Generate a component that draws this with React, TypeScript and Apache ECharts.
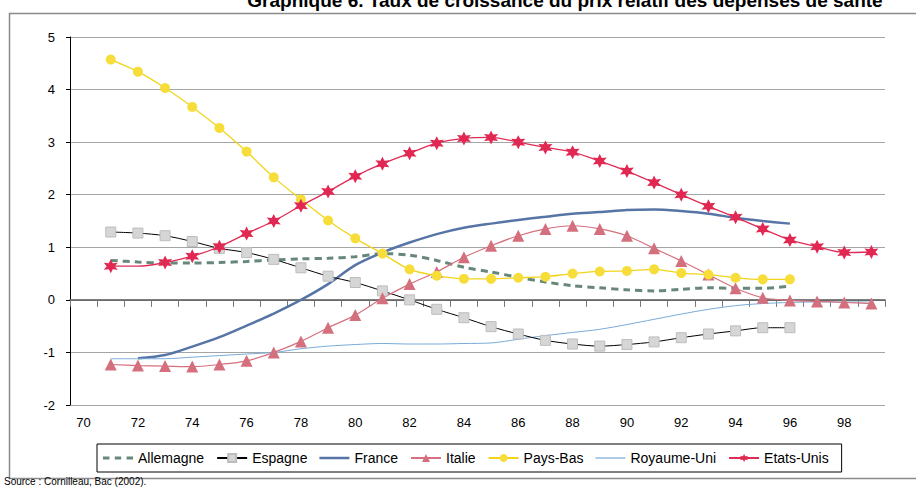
import React, { useEffect, useRef } from "react";
import * as echarts from "echarts";

const years = ["70","71","72","73","74","75","76","77","78","79","80","81","82","83","84","85","86","87","88","89","90","91","92","93","94","95","96","97","98","99"];
const yTicks = [-2, -1, 0, 1, 2, 3, 4, 5];

// values indexed by year 70..99 (null = no data)
const allemagne = [null,0.75,0.72,0.70,0.70,0.71,0.73,0.76,0.78,0.79,0.82,0.88,0.85,0.75,0.62,0.53,0.43,0.34,0.27,0.23,0.19,0.17,0.20,0.23,0.22,0.22,0.26,null,null,null];
const espagne = [null,1.29,1.27,1.22,1.11,0.98,0.90,0.77,0.61,0.45,0.33,0.17,0.00,-0.18,-0.34,-0.51,-0.65,-0.77,-0.84,-0.88,-0.85,-0.80,-0.72,-0.65,-0.59,-0.53,-0.53,null,null,null];
const france = [null,null,-1.11,-1.05,-0.89,-0.71,-0.49,-0.26,0.00,0.30,0.66,0.90,1.09,1.25,1.37,1.45,1.52,1.58,1.64,1.67,1.71,1.72,1.69,1.64,1.56,1.50,1.45,null,null,null];
const italie = [null,-1.23,-1.25,-1.26,-1.27,-1.23,-1.16,-1.00,-0.79,-0.53,-0.29,0.03,0.30,0.53,0.81,1.03,1.22,1.35,1.41,1.35,1.22,0.98,0.74,0.48,0.22,0.04,-0.01,-0.03,-0.05,-0.07];
const paysBas = [null,4.57,4.34,4.03,3.67,3.27,2.82,2.33,1.91,1.51,1.17,0.88,0.58,0.46,0.40,0.40,0.42,0.44,0.50,0.54,0.55,0.58,0.51,0.48,0.42,0.39,0.39,null,null,null];
const royaumeUni = [null,-1.12,-1.12,-1.12,-1.09,-1.06,-1.03,-1.00,-0.93,-0.88,-0.85,-0.83,-0.84,-0.84,-0.83,-0.82,-0.75,-0.68,-0.62,-0.56,-0.47,-0.37,-0.27,-0.18,-0.11,-0.07,-0.05,-0.04,-0.04,-0.04];
const etatsUnis = [null,0.64,0.64,0.71,0.83,1.01,1.26,1.50,1.79,2.06,2.35,2.59,2.79,2.98,3.07,3.09,3.00,2.90,2.81,2.64,2.45,2.23,2.00,1.78,1.57,1.35,1.14,1.01,0.90,0.91];
const etatsUnisNoMarkerYear = "72";

const titleText = "Graphique 6. Taux de croissance du prix relatif des dépenses de santé";
const sourceText = "Source : Cornilleau, Bac (2002).";

const FONT = "'Liberation Sans', Arial, sans-serif";
const STAR = "path://M10,0 L12.5,5.67 L18.66,5 L15,10 L18.66,15 L12.5,14.33 L10,20 L7.5,14.33 L1.34,15 L5,10 L1.34,5 L7.5,5.67 Z";
const ICON_DASH = "path://M0,0 h6 v3 h-6 Z M11,0 h6 v3 h-6 Z M22,0 h6 v3 h-6 Z";
const ICON_THICK = "path://M0,0 h30 v2.5 h-30 Z";
const ICON_THIN = "path://M0,0 h30 v1.2 h-30 Z";

export default function App() {
  const ref = useRef<HTMLDivElement>(null);
  useEffect(() => {
    if (!ref.current) return;
    const chart = echarts.init(ref.current, undefined, { renderer: "svg" });
    const smooth = 0.3;
    const usData = etatsUnis.map((v, i) => (years[i] === etatsUnisNoMarkerYear ? { value: v, symbol: "none" } : v));
    chart.setOption({
      animation: false,
      backgroundColor: "#ffffff",
      textStyle: { fontFamily: FONT },
      grid: { left: 70, right: 31, top: 37, bottom: 83, containLabel: false },
      legend: {
        left: 97,
        top: 444,
        padding: [7, 13, 7, 6],
        borderColor: "#000",
        borderWidth: 1,
        itemWidth: 30,
        itemHeight: 10,
        itemGap: 12,
        symbolKeepAspect: true,
        textStyle: { fontSize: 14, color: "#000", fontFamily: FONT },
        data: [
          { name: "Allemagne", icon: ICON_DASH },
          "Espagne",
          { name: "France", icon: ICON_THICK },
          "Italie",
          "Pays-Bas",
          { name: "Royaume-Uni", icon: ICON_THIN },
          "Etats-Unis",
        ],
      },
      xAxis: [
        {
          type: "category",
          data: years,
          boundaryGap: true,
          position: "bottom",
          axisLine: { onZero: true, lineStyle: { color: "#555", width: 1.5 } },
          axisTick: { show: true, interval: 0, length: 7, lineStyle: { color: "#777" } },
          axisLabel: { show: false },
          splitLine: { show: false },
        },
        {
          type: "category",
          data: years,
          boundaryGap: true,
          position: "bottom",
          axisLine: { show: false, onZero: false },
          axisTick: { show: false },
          axisLabel: { interval: 1, fontSize: 13, color: "#000", margin: 11, fontFamily: FONT },
          splitLine: { show: false },
        },
      ],
      yAxis: {
        type: "value",
        min: yTicks[0],
        max: yTicks[yTicks.length - 1],
        interval: 1,
        axisLine: { show: true, lineStyle: { color: "#000", width: 1 } },
        axisTick: { show: true, length: 4, lineStyle: { color: "#000" } },
        axisLabel: { fontSize: 13, color: "#000", margin: 15, fontFamily: FONT },
        splitLine: { show: true, lineStyle: { color: "#a5a5a5", width: 1.2 } },
      },
      series: [
        {
          name: "Allemagne", type: "line", data: allemagne, smooth, showSymbol: false, symbol: "none",
          lineStyle: { color: "#67877b", width: 3, type: [7, 5] }, itemStyle: { color: "#67877b" }, z: 3,
        },
        {
          name: "Espagne", type: "line", data: espagne, smooth, symbol: "rect", symbolSize: 10,
          lineStyle: { color: "#000000", width: 1 }, itemStyle: { color: "#d6d6d6", borderColor: "#bdbdbd", borderWidth: 1 }, z: 4,
        },
        {
          name: "France", type: "line", data: france, smooth, symbol: "none",
          lineStyle: { color: "#5675a6", width: 2.5 }, itemStyle: { color: "#5675a6" }, z: 3,
        },
        {
          name: "Italie", type: "line", data: italie, smooth, symbol: "triangle", symbolSize: [12, 12],
          lineStyle: { color: "#d7707e", width: 1.2 }, itemStyle: { color: "#d4707e" }, z: 4,
        },
        {
          name: "Pays-Bas", type: "line", data: paysBas, smooth, symbol: "circle", symbolSize: 10,
          lineStyle: { color: "#f2d41a", width: 1.3 }, itemStyle: { color: "#f7dd3a" }, z: 4,
        },
        {
          name: "Royaume-Uni", type: "line", data: royaumeUni, smooth, symbol: "none",
          lineStyle: { color: "#78abd9", width: 1 }, itemStyle: { color: "#78abd9" }, z: 3,
        },
        {
          name: "Etats-Unis", type: "line", data: usData, smooth, symbol: STAR, symbolSize: 14,
          lineStyle: { color: "#e02b57", width: 1.3 }, itemStyle: { color: "#e02852" }, z: 5,
        },
      ],
      graphic: [
        {
          type: "rect", left: 7, top: 11, z: -1, silent: true,
          shape: { x: 0, y: 0, width: 930, height: 465 },
          style: { fill: "none", stroke: "#8a8a8a", lineWidth: 1.5 },
        },
        {
          type: "text", x: 565, y: 0, silent: true,
          style: { text: titleText, font: `bold 19px ${FONT}`, fill: "#000", textAlign: "center", textVerticalAlign: "middle" },
        },
        {
          type: "text", x: 4, y: 481, silent: true,
          style: { text: sourceText, font: `10px ${FONT}`, fill: "#000", textAlign: "left", textVerticalAlign: "middle" },
        },
      ],
    });
    return () => chart.dispose();
  }, []);
  return <div ref={ref} style={{ position: "fixed", left: 0, top: 0, width: 916, height: 488 }} />;
}
